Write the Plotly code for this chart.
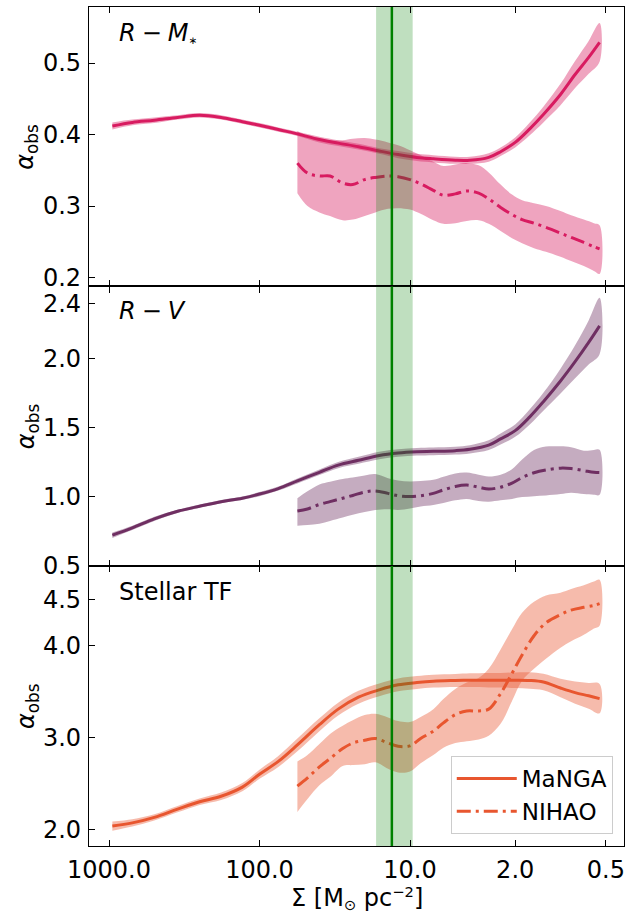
import plotly.graph_objects as go

# ---------------- data ----------------
sigma_manga = [950, 700, 500, 350, 250, 180, 130, 100, 75, 56, 40, 30, 22, 16, 12, 9, 7, 5, 4, 3,
               2.5, 2, 1.6, 1.3, 1.0, 0.8, 0.65, 0.55]
sigma_nihao = [56, 48, 40, 34, 28, 24, 20, 17, 14, 12, 10, 8.5, 7, 6, 5, 4.2, 3.5, 3, 2.5, 2.1,
               1.8, 1.5, 1.25, 1.0, 0.85, 0.7, 0.6, 0.55]

# R - M*
rm_manga = [0.412, 0.417, 0.420, 0.424, 0.427, 0.424, 0.418, 0.413, 0.407, 0.401, 0.393, 0.388,
            0.383, 0.377, 0.372, 0.368, 0.366, 0.364, 0.364, 0.368, 0.376, 0.389, 0.408, 0.428,
            0.456, 0.484, 0.508, 0.529]
rm_manga_err = [0.005, 0.004, 0.004, 0.003, 0.003, 0.003, 0.003, 0.003, 0.003, 0.003, 0.004, 0.004,
                0.004, 0.004, 0.005, 0.005, 0.005, 0.005, 0.005, 0.006, 0.006, 0.007, 0.009, 0.011,
                0.015, 0.019, 0.023, 0.027]
rm_nihao = [0.360, 0.346, 0.342, 0.342, 0.332, 0.330, 0.337, 0.340, 0.342, 0.341, 0.337, 0.331,
            0.322, 0.315, 0.317, 0.321, 0.318, 0.310, 0.298, 0.288, 0.281, 0.276, 0.270, 0.262,
            0.256, 0.249, 0.243, 0.240]
rm_nihao_hi = [0.405, 0.398, 0.394, 0.392, 0.392, 0.394, 0.395, 0.393, 0.389, 0.385, 0.378, 0.371,
               0.362, 0.356, 0.358, 0.360, 0.357, 0.347, 0.330, 0.316, 0.308, 0.304, 0.300, 0.293,
               0.287, 0.281, 0.276, 0.273]
rm_nihao_lo = [0.318, 0.300, 0.291, 0.286, 0.280, 0.281, 0.286, 0.291, 0.296, 0.297, 0.295, 0.289,
               0.280, 0.275, 0.276, 0.279, 0.280, 0.275, 0.265, 0.255, 0.248, 0.241, 0.236, 0.229,
               0.223, 0.216, 0.209, 0.205]

# R - V
rv_manga = [0.722, 0.775, 0.840, 0.895, 0.932, 0.965, 0.990, 1.020, 1.060, 1.115, 1.178, 1.230,
            1.265, 1.300, 1.318, 1.327, 1.330, 1.335, 1.345, 1.375, 1.420, 1.480, 1.580, 1.690,
            1.840, 1.980, 2.120, 2.240]
rv_manga_err = [0.020, 0.015, 0.015, 0.012, 0.012, 0.012, 0.012, 0.015, 0.015, 0.018, 0.020, 0.022,
                0.025, 0.027, 0.028, 0.028, 0.028, 0.028, 0.030, 0.035, 0.040, 0.045, 0.055, 0.065,
                0.090, 0.120, 0.160, 0.205]
rv_nihao = [0.898, 0.912, 0.945, 0.965, 0.990, 1.010, 1.035, 1.043, 1.025, 1.008, 1.002, 1.008,
            1.025, 1.050, 1.075, 1.085, 1.070, 1.057, 1.070, 1.100, 1.140, 1.175, 1.195, 1.208,
            1.205, 1.190, 1.178, 1.176]
rv_nihao_hi = [0.990, 1.040, 1.090, 1.110, 1.130, 1.140, 1.155, 1.165, 1.135, 1.118, 1.111, 1.115,
               1.123, 1.145, 1.170, 1.176, 1.160, 1.147, 1.160, 1.200, 1.270, 1.340, 1.365, 1.366,
               1.360, 1.335, 1.340, 1.341]
rv_nihao_lo = [0.790, 0.795, 0.805, 0.825, 0.850, 0.870, 0.890, 0.905, 0.910, 0.905, 0.915, 0.930,
               0.940, 0.955, 0.975, 0.985, 0.970, 0.965, 0.975, 0.985, 0.998, 1.005, 1.010, 1.020,
               1.030, 1.020, 1.015, 1.015]

# Stellar TF
tf_manga = [2.035, 2.070, 2.130, 2.220, 2.300, 2.360, 2.460, 2.600, 2.740, 2.920, 3.140, 3.310,
            3.440, 3.520, 3.575, 3.600, 3.615, 3.622, 3.625, 3.625, 3.625, 3.625, 3.622, 3.605,
            3.540, 3.490, 3.455, 3.425]
tf_manga_err = [0.050, 0.040, 0.035, 0.035, 0.035, 0.040, 0.045, 0.050, 0.060, 0.070, 0.070, 0.070,
                0.070, 0.070, 0.070, 0.070, 0.070, 0.070, 0.075, 0.080, 0.080, 0.085, 0.090, 0.090,
                0.100, 0.120, 0.140, 0.160]
tf_nihao = [2.470, 2.560, 2.680, 2.770, 2.880, 2.940, 2.970, 2.990, 2.940, 2.905, 2.910, 2.990,
            3.070, 3.160, 3.250, 3.290, 3.290, 3.310, 3.480, 3.700, 3.900, 4.110, 4.250, 4.340,
            4.390, 4.420, 4.440, 4.460]
tf_nihao_hi = [2.740, 2.810, 2.930, 3.040, 3.130, 3.190, 3.245, 3.260, 3.220, 3.180, 3.170, 3.225,
               3.310, 3.420, 3.530, 3.600, 3.650, 3.750, 3.960, 4.180, 4.360, 4.480, 4.550, 4.580,
               4.620, 4.660, 4.700, 4.720]
tf_nihao_lo = [2.190, 2.330, 2.480, 2.570, 2.690, 2.700, 2.710, 2.730, 2.660, 2.620, 2.630, 2.720,
               2.810, 2.890, 2.940, 2.960, 2.980, 3.020, 3.150, 3.400, 3.620, 3.750, 3.860, 3.980,
               4.050, 4.120, 4.190, 4.220]

sigma_mark = 13.2
sigma_band = [9.6, 16.8]

panel_labels = ["<i>R</i>\u2005−\u2005<i>M</i><span style='font-size:15px'><sub>∗</sub></span>",
                "<i>R</i>\u2005−\u2005<i>V</i>", "Stellar TF"]
panel_colors = ["#d81b60", "#6f2f62", "#e8562f"]
panel_fills = ["rgba(216,27,96,0.4)", "rgba(111,47,98,0.4)", "rgba(232,86,47,0.4)"]
y_ranges = [[0.1874, 0.5785], [0.498, 2.526], [1.818, 4.87]]
y_ticks = [[0.2, 0.3, 0.4, 0.5], [0.5, 1.0, 1.5, 2.0, 2.4], [2.0, 3.0, 4.0, 4.5]]
x_ticks = [1000, 100, 10, 2, 0.5]
x_ticktext = ["1000.0", "100.0", "10.0", "2.0", "0.5"]
x_title = ("Σ [M<span style='font-size:21px'><sub>⊙</sub></span> "
           "pc<span style='font-size:21px'><sup>−2</sup></span>]")

panels = [
    (rm_manga, rm_manga_err, rm_nihao, rm_nihao_lo, rm_nihao_hi),
    (rv_manga, rv_manga_err, rv_nihao, rv_nihao_lo, rv_nihao_hi),
    (tf_manga, tf_manga_err, tf_nihao, tf_nihao_lo, tf_nihao_hi),
]

FONT = "DejaVu Sans"
domains = [[0.6669, 1.0], [0.3337, 0.6669], [0.0, 0.3337]]

fig = go.Figure()
for i, (m, me, n, nlo, nhi) in enumerate(panels):
    xa = "x" if i == 0 else f"x{i+1}"
    ya = "y" if i == 0 else f"y{i+1}"
    col = panel_colors[i]
    fcol = panel_fills[i]
    last = (i == 2)
    m_hi = [a + b for a, b in zip(m, me)]
    m_lo = [a - b for a, b in zip(m, me)]
    fig.add_trace(go.Scatter(x=sigma_manga + sigma_manga[::-1], y=m_hi + m_lo[::-1],
                             fill="toself", fillcolor=fcol, line=dict(width=0, shape="spline"),
                             mode="lines", showlegend=False, hoverinfo="skip", xaxis=xa, yaxis=ya))
    fig.add_trace(go.Scatter(x=sigma_manga, y=m, mode="lines", name="MaNGA",
                             line=dict(color=col, width=3, shape="spline"),
                             showlegend=last, xaxis=xa, yaxis=ya))
    fig.add_trace(go.Scatter(x=sigma_nihao + sigma_nihao[::-1], y=nhi + nlo[::-1],
                             fill="toself", fillcolor=fcol, line=dict(width=0, shape="spline"),
                             mode="lines", showlegend=False, hoverinfo="skip", xaxis=xa, yaxis=ya))
    fig.add_trace(go.Scatter(x=sigma_nihao, y=n, mode="lines", name="NIHAO",
                             line=dict(color=col, width=3, shape="spline", dash="14px,5px,3px,5px"),
                             showlegend=last, xaxis=xa, yaxis=ya))
    # green band and line
    fig.add_trace(go.Scatter(x=[sigma_band[1], sigma_band[1], sigma_band[0], sigma_band[0]],
                             y=[-100, 100, 100, -100], fill="toself",
                             fillcolor="rgba(0,128,0,0.25)", line=dict(width=0), mode="lines",
                             showlegend=False, hoverinfo="skip", xaxis=xa, yaxis=ya))
    fig.add_trace(go.Scatter(x=[sigma_mark, sigma_mark], y=[-100, 100], mode="lines",
                             line=dict(color="green", width=2.5), showlegend=False,
                             hoverinfo="skip", xaxis=xa, yaxis=ya))

axis_common = dict(showline=True, linecolor="black", linewidth=1.2, ticks="inside",
                   ticklen=6, tickwidth=1.2, tickcolor="black", showgrid=False, zeroline=False,
                   tickfont=dict(family=FONT, size=24, color="black"))
layout = dict(width=641, height=915, margin=dict(l=89, r=17, t=7, b=69),
              plot_bgcolor="white", paper_bgcolor="white",
              font=dict(family=FONT, size=24, color="black"))
for i in range(3):
    xk = "xaxis" if i == 0 else f"xaxis{i+1}"
    yk = "yaxis" if i == 0 else f"yaxis{i+1}"
    ya = "y" if i == 0 else f"y{i+1}"
    xa = "x" if i == 0 else f"x{i+1}"
    layout[xk] = dict(axis_common, type="log", range=[3.1329, -0.4219], anchor=ya,
                      tickvals=x_ticks, ticktext=x_ticktext, mirror="ticks",
                      showticklabels=(i == 2), domain=[0, 1], ticklabelstandoff=2)
    layout[yk] = dict(axis_common, range=y_ranges[i], anchor=xa, domain=domains[i],
                      tickvals=y_ticks[i], tickformat=".1f", mirror=True, ticklabelstandoff=2)

annotations = []
label_y = [0.969, 0.638, 0.3031]
for i in range(3):
    annotations.append(dict(text=panel_labels[i], x=0.0518, y=label_y[i], xref="paper",
                            yref="paper", xanchor="left", yanchor="middle", showarrow=False,
                            font=dict(family=FONT, size=24, color="black")))
    annotations.append(dict(text="<i>α</i><sub>obs</sub>", x=-0.1159,
                            y=(domains[i][0] + domains[i][1]) / 2, xref="paper", yref="paper",
                            xanchor="center", yanchor="middle", textangle=-90, showarrow=False,
                            font=dict(family=FONT, size=24, color="black")))
annotations.append(dict(text=x_title, x=0.5, y=-0.0625,
                        xref="paper", yref="paper", xanchor="center", yanchor="middle",
                        showarrow=False, font=dict(family=FONT, size=24, color="black")))
layout["annotations"] = annotations
layout["legend"] = dict(x=0.979, y=0.0143, xanchor="right", yanchor="bottom",
                        bgcolor="rgba(255,255,255,0.8)", bordercolor="#cccccc", borderwidth=1,
                        itemwidth=60,
                        font=dict(family=FONT, size=23, color="black"))
fig.update_layout(**layout)
fig.write_html("out.html")
